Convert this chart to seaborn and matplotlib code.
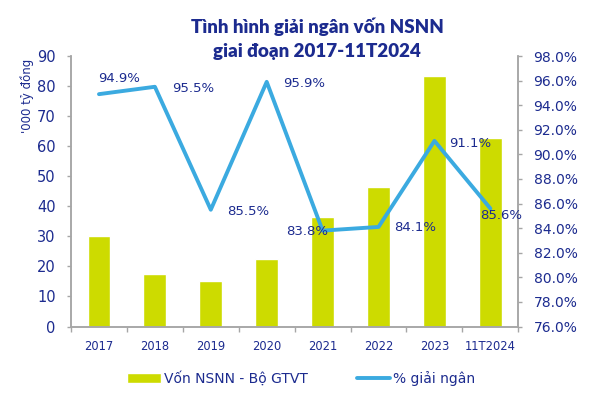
import numpy as np
import pandas as pd
import matplotlib.pyplot as plt
import seaborn as sns

years = ['2017', '2018', '2019', '2020', '2021', '2022', '2023', '11T2024']
von_nsnn = [30.0, 17.5, 15.1, 22.6, 36.4, 46.4, 83.5, 62.7]
pct_giai_ngan = [94.9, 95.5, 85.5, 95.9, 83.8, 84.1, 91.1, 85.6]

BAR_COLOR = '#CDDB00'
LINE_COLOR = '#3BAAE0'
TEXT_COLOR = '#1C2B8F'
SPINE_COLOR = '#A6A6A6'

sns.set_theme(style='white')
plt.rcParams['font.family'] = ['DejaVu Sans']

df = pd.DataFrame({'Năm': years, 'Vốn': von_nsnn, 'Pct': pct_giai_ngan})

fig = plt.figure(figsize=(6.09, 3.98), dpi=100)
ax = fig.add_axes([0.1166, 0.1796, 0.7345, 0.6796])
sns.barplot(data=df, x='Năm', y='Vốn', color=BAR_COLOR, width=0.41,
            saturation=1, ax=ax, label='Vốn NSNN - Bộ GTVT', legend=False)
ax.set_xlim(-0.5, len(years) - 0.5)
ax.set_ylim(0, 90)
ax.set_yticks(range(0, 91, 10))
ax.set_xlabel('')
ax.set_ylabel('')
ax.tick_params(axis='y', colors=SPINE_COLOR, labelcolor=TEXT_COLOR, labelsize=10.5,
               length=3, width=1, direction='out', left=True, pad=8)
ax.tick_params(axis='x', which='major', length=0, labelcolor=TEXT_COLOR, labelsize=8.3, pad=10)
ax.set_xticks(np.arange(-0.5, len(years)), minor=True)
ax.tick_params(axis='x', which='minor', length=3.6, width=1, color=SPINE_COLOR, bottom=True)

ax2 = ax.twinx()
sns.lineplot(x=np.arange(len(years)), y=pct_giai_ngan, color=LINE_COLOR, linewidth=2.8,
             ax=ax2, label='% giải ngân', legend=False)
ax2.set_ylim(76, 98)
ax2.set_yticks(np.arange(76, 98.1, 2))
ax2.set_yticklabels([f'{v:.1f}%' for v in np.arange(76, 98.1, 2)])
ax2.tick_params(axis='y', colors=SPINE_COLOR, labelcolor=TEXT_COLOR, labelsize=10,
                length=3, width=1, direction='out', right=True, pad=8)
ax2.set_xlim(-0.5, len(years) - 0.5)

for a in (ax, ax2):
    a.spines['top'].set_visible(False)
    for side in ['left', 'right', 'bottom']:
        a.spines[side].set_color(SPINE_COLOR)
        a.spines[side].set_linewidth(1.1)

# label offsets in pixels (centre of text relative to the point)
offsets = [(20, 16), (38, -2), (37, -2), (37, -2), (-15, -1), (37, -1), (36, -3), (11, -7)]
for i, (v, off) in enumerate(zip(pct_giai_ngan, offsets)):
    ax2.annotate(f'{v:.1f}%', (i, v), xytext=off, textcoords='offset pixels',
                 ha='center', va='center', fontsize=9.5, color=TEXT_COLOR)

title_font = ['Lato', 'DejaVu Sans']
fig.text(0.521, 0.932, 'Tình hình giải ngân vốn NSNN', ha='center', va='center',
         fontsize=13.5, fontweight='heavy', color=TEXT_COLOR, family=title_font)
fig.text(0.521, 0.870, 'giai đoạn 2017-11T2024', ha='center', va='center',
         fontsize=13.5, fontweight='heavy', color=TEXT_COLOR, family=title_font)
fig.text(0.045, 0.759, "'000 tỷ đồng", rotation=90, ha='center', va='center',
         fontsize=8.5, color=TEXT_COLOR)

h1, l1 = ax.get_legend_handles_labels()
h2, l2 = ax2.get_legend_handles_labels()
fig.legend(h1 + h2, l1 + l2, loc='center', bbox_to_anchor=(0.495, 0.05), ncol=2,
           frameon=False, fontsize=10, labelcolor=TEXT_COLOR, columnspacing=3.5,
           handlelength=2.4, handleheight=0.7, handletextpad=0.25)

fig.savefig('out.png', dpi=100)
